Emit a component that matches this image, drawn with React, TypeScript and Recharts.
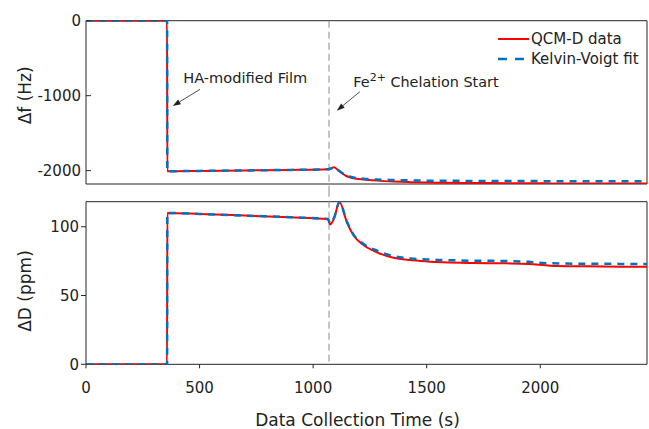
import React from "react";
import {
  Line,
  LineChart,
  ReferenceArea,
  ReferenceDot,
  ReferenceLine,
  XAxis,
  YAxis,
} from "recharts";

// time axis (s) shared by both panels
const times = [0, 357, 358, 500, 700, 900, 1065, 1075, 1092, 1116, 1148, 1177, 1222, 1281, 1354, 1427, 1500, 1574, 1700, 1853, 1950, 2044, 2200, 2350, 2470];

// frequency shift (Hz)
const freqData = [0, 0, -2008, -2003, -1997, -1990, -1982, -1975, -1956, -2010, -2075, -2100, -2118, -2133, -2145, -2153, -2158, -2162, -2165, -2167, -2168, -2170, -2170, -2170, -2170];
const freqFit = [0, 0, -2008, -2003, -1997, -1990, -1982, -1975, -1958, -2005, -2068, -2092, -2108, -2118, -2125, -2130, -2133, -2135, -2137, -2138, -2139, -2140, -2140, -2141, -2141];

// dissipation shift (ppm)
const dissData = [0, 0, 110, 109.3, 108.1, 106.9, 105.6, 101.7, 106, 118, 103.6, 94, 86.7, 81.4, 77.5, 75.8, 74.8, 74.1, 73.6, 73.4, 73.0, 71.7, 71.2, 71.0, 70.9];
const dissFit = [0, 0, 110, 109.3, 108.1, 106.9, 105.6, 102.5, 106.5, 118, 104, 94.5, 87.5, 82.6, 78.7, 77, 76.2, 75.8, 75.3, 75.1, 74.5, 73.4, 73.1, 73.0, 72.9];

const xTicks = [0, 500, 1000, 1500, 2000];
const freqTicks = [-2000, -1000, 0];
const dissTicks = [0, 50, 100];
const chelationStart = 1070;

const X_MAX = 2470;
const FREQ_MIN = -2178;
const DISS_MAX = 118.2;

const FONT = "'DejaVu Sans', sans-serif";
const RED = "#ff0000";
const BLUE = "#0072bd";
const INK = "#222";
const FRAME = "#262626";

const freqRows = times.map((t, i) => ({ t, data: freqData[i], fit: freqFit[i] }));
const dissRows = times.map((t, i) => ({ t, data: dissData[i], fit: dissFit[i] }));

// arrow drawn from segment end points, head at the second point
const Arrow = (p: any) => {
  const { x1, y1, x2, y2 } = p;
  const a = Math.atan2(y2 - y1, x2 - x1);
  const len = 8;
  const w = 2.8;
  const bx = x2 - len * Math.cos(a);
  const by = y2 - len * Math.sin(a);
  const pts = [
    `${x2},${y2}`,
    `${bx + w * Math.sin(a)},${by - w * Math.cos(a)}`,
    `${bx - w * Math.sin(a)},${by + w * Math.cos(a)}`,
  ].join(" ");
  return (
    <g>
      <line x1={x1} y1={y1} x2={bx} y2={by} stroke={INK} strokeWidth={0.8} />
      <polygon points={pts} fill={INK} />
    </g>
  );
};

const yTitle = (text: string, shift: number) => (props: any) => {
  const vb = props.viewBox;
  const cy = vb.y + vb.height / 2 + shift;
  return (
    <text
      transform={`translate(25, ${cy}) rotate(-90)`}
      textAnchor="middle"
      dominantBaseline="central"
      fontFamily={FONT}
      fontSize={17}
      fill={INK}
    >
      {text}
    </text>
  );
};

const xTitle = (props: any) => {
  const vb = props.viewBox;
  return (
    <text
      x={vb.x + vb.width / 2 - 9}
      y={vb.y + vb.height - 3}
      textAnchor="middle"
      fontFamily={FONT}
      fontSize={17}
      fill={INK}
    >
      Data Collection Time (s)
    </text>
  );
};

const tickStyle = { fill: INK, fontSize: 15, fontFamily: FONT };

export default function App() {
  return (
    <div style={{ position: "absolute", left: 0, top: 0, width: 649, height: 429, background: "#fff", fontFamily: FONT }}>
      <div style={{ position: "absolute", left: 0, top: 0 }}>
        <LineChart width={649} height={190} data={freqRows} margin={{ top: 20.7, right: 2, bottom: 6, left: 0 }}>
          <XAxis type="number" dataKey="t" domain={[0, X_MAX]} hide allowDataOverflow />
          <YAxis
            type="number"
            domain={[FREQ_MIN, 0]}
            ticks={freqTicks}
            width={86}
            axisLine={false}
            tickSize={-5}
            tickMargin={10}
            tickLine={{ stroke: FRAME }}
            tick={tickStyle}
            allowDataOverflow
            label={yTitle("Δf (Hz)", -7)}
          />
          <ReferenceArea x1={0} x2={X_MAX} y1={FREQ_MIN} y2={0} fill="none" stroke={FRAME} strokeWidth={1} />
          <ReferenceLine
            x={chelationStart}
            shape={(p: any) => (
              <line
                x1={p.x1}
                x2={p.x2}
                y1={Math.min(p.y1, p.y2)}
                y2={Math.max(p.y1, p.y2) + 6}
                stroke="#8c8c8c"
                strokeWidth={1}
                strokeDasharray="7 4"
              />
            )}
          />
          <Line type="monotone" dataKey="data" stroke={RED} strokeWidth={2} dot={false} isAnimationActive={false} />
          <Line type="monotone" dataKey="fit" stroke={BLUE} strokeWidth={2.5} strokeDasharray="7 6" dot={false} isAnimationActive={false} />
          <ReferenceLine segment={[{ x: 502, y: -915 }, { x: 382, y: -1138 }]} shape={Arrow} />
          <ReferenceLine segment={[{ x: 1206, y: -947 }, { x: 1104, y: -1200 }]} shape={Arrow} />
          <ReferenceDot
            x={428}
            y={-760}
            r={1}
            shape={(p: any) => (
              <text x={p.cx} y={p.cy} dominantBaseline="central" fontFamily={FONT} fontSize={14.6} fill={INK}>
                HA-modified Film
              </text>
            )}
          />
          <ReferenceDot
            x={1177}
            y={-818}
            r={1}
            shape={(p: any) => (
              <text x={p.cx} y={p.cy + 5} fontFamily={FONT} fontSize={14.4} fill={INK}>
                Fe
                <tspan dy={-6} fontSize={11}>2+</tspan>
                <tspan dy={6}> Chelation Start</tspan>
              </text>
            )}
          />
        </LineChart>
      </div>

      <div style={{ position: "absolute", left: 0, top: 190 }}>
        <LineChart width={649} height={239} data={dissRows} margin={{ top: 11.7, right: 2, bottom: 0, left: 0 }}>
          <XAxis
            type="number"
            dataKey="t"
            domain={[0, X_MAX]}
            ticks={xTicks}
            height={64.7}
            axisLine={false}
            tickSize={4}
            tickMargin={14}
            tickLine={{ stroke: FRAME }}
            tick={tickStyle}
            allowDataOverflow
            label={xTitle}
          />
          <YAxis
            type="number"
            domain={[0, DISS_MAX]}
            ticks={dissTicks}
            width={86}
            axisLine={false}
            tickSize={5}
            tickMargin={2}
            tickLine={{ stroke: FRAME }}
            tick={tickStyle}
            allowDataOverflow
            label={yTitle("ΔD (ppm)", 8)}
          />
          <ReferenceArea x1={0} x2={X_MAX} y1={0} y2={DISS_MAX} fill="none" stroke={FRAME} strokeWidth={1} />
          <ReferenceLine
            x={chelationStart}
            shape={(p: any) => (
              <line
                x1={p.x1}
                x2={p.x2}
                y1={Math.min(p.y1, p.y2) - 12}
                y2={Math.max(p.y1, p.y2)}
                stroke="#8c8c8c"
                strokeWidth={1}
                strokeDasharray="7 4"
              />
            )}
          />
          <Line type="monotone" dataKey="data" stroke={RED} strokeWidth={2} dot={false} isAnimationActive={false} />
          <Line type="monotone" dataKey="fit" stroke={BLUE} strokeWidth={2.5} strokeDasharray="7 6" dot={false} isAnimationActive={false} />
        </LineChart>
      </div>

      <div style={{ position: "absolute", left: 497, top: 29, fontSize: 15, color: INK, lineHeight: "20px" }}>
        <div style={{ display: "flex", alignItems: "center" }}>
          <svg width={32} height={20}>
            <line x1={1} y1={10} x2={32} y2={10} stroke={RED} strokeWidth={2} />
          </svg>
          <span style={{ marginLeft: 2 }}>QCM-D data</span>
        </div>
        <div style={{ display: "flex", alignItems: "center" }}>
          <svg width={32} height={20}>
            <line x1={1} y1={10} x2={32} y2={10} stroke={BLUE} strokeWidth={2.5} strokeDasharray="9 8" />
          </svg>
          <span style={{ marginLeft: 2 }}>Kelvin-Voigt fit</span>
        </div>
      </div>
    </div>
  );
}
